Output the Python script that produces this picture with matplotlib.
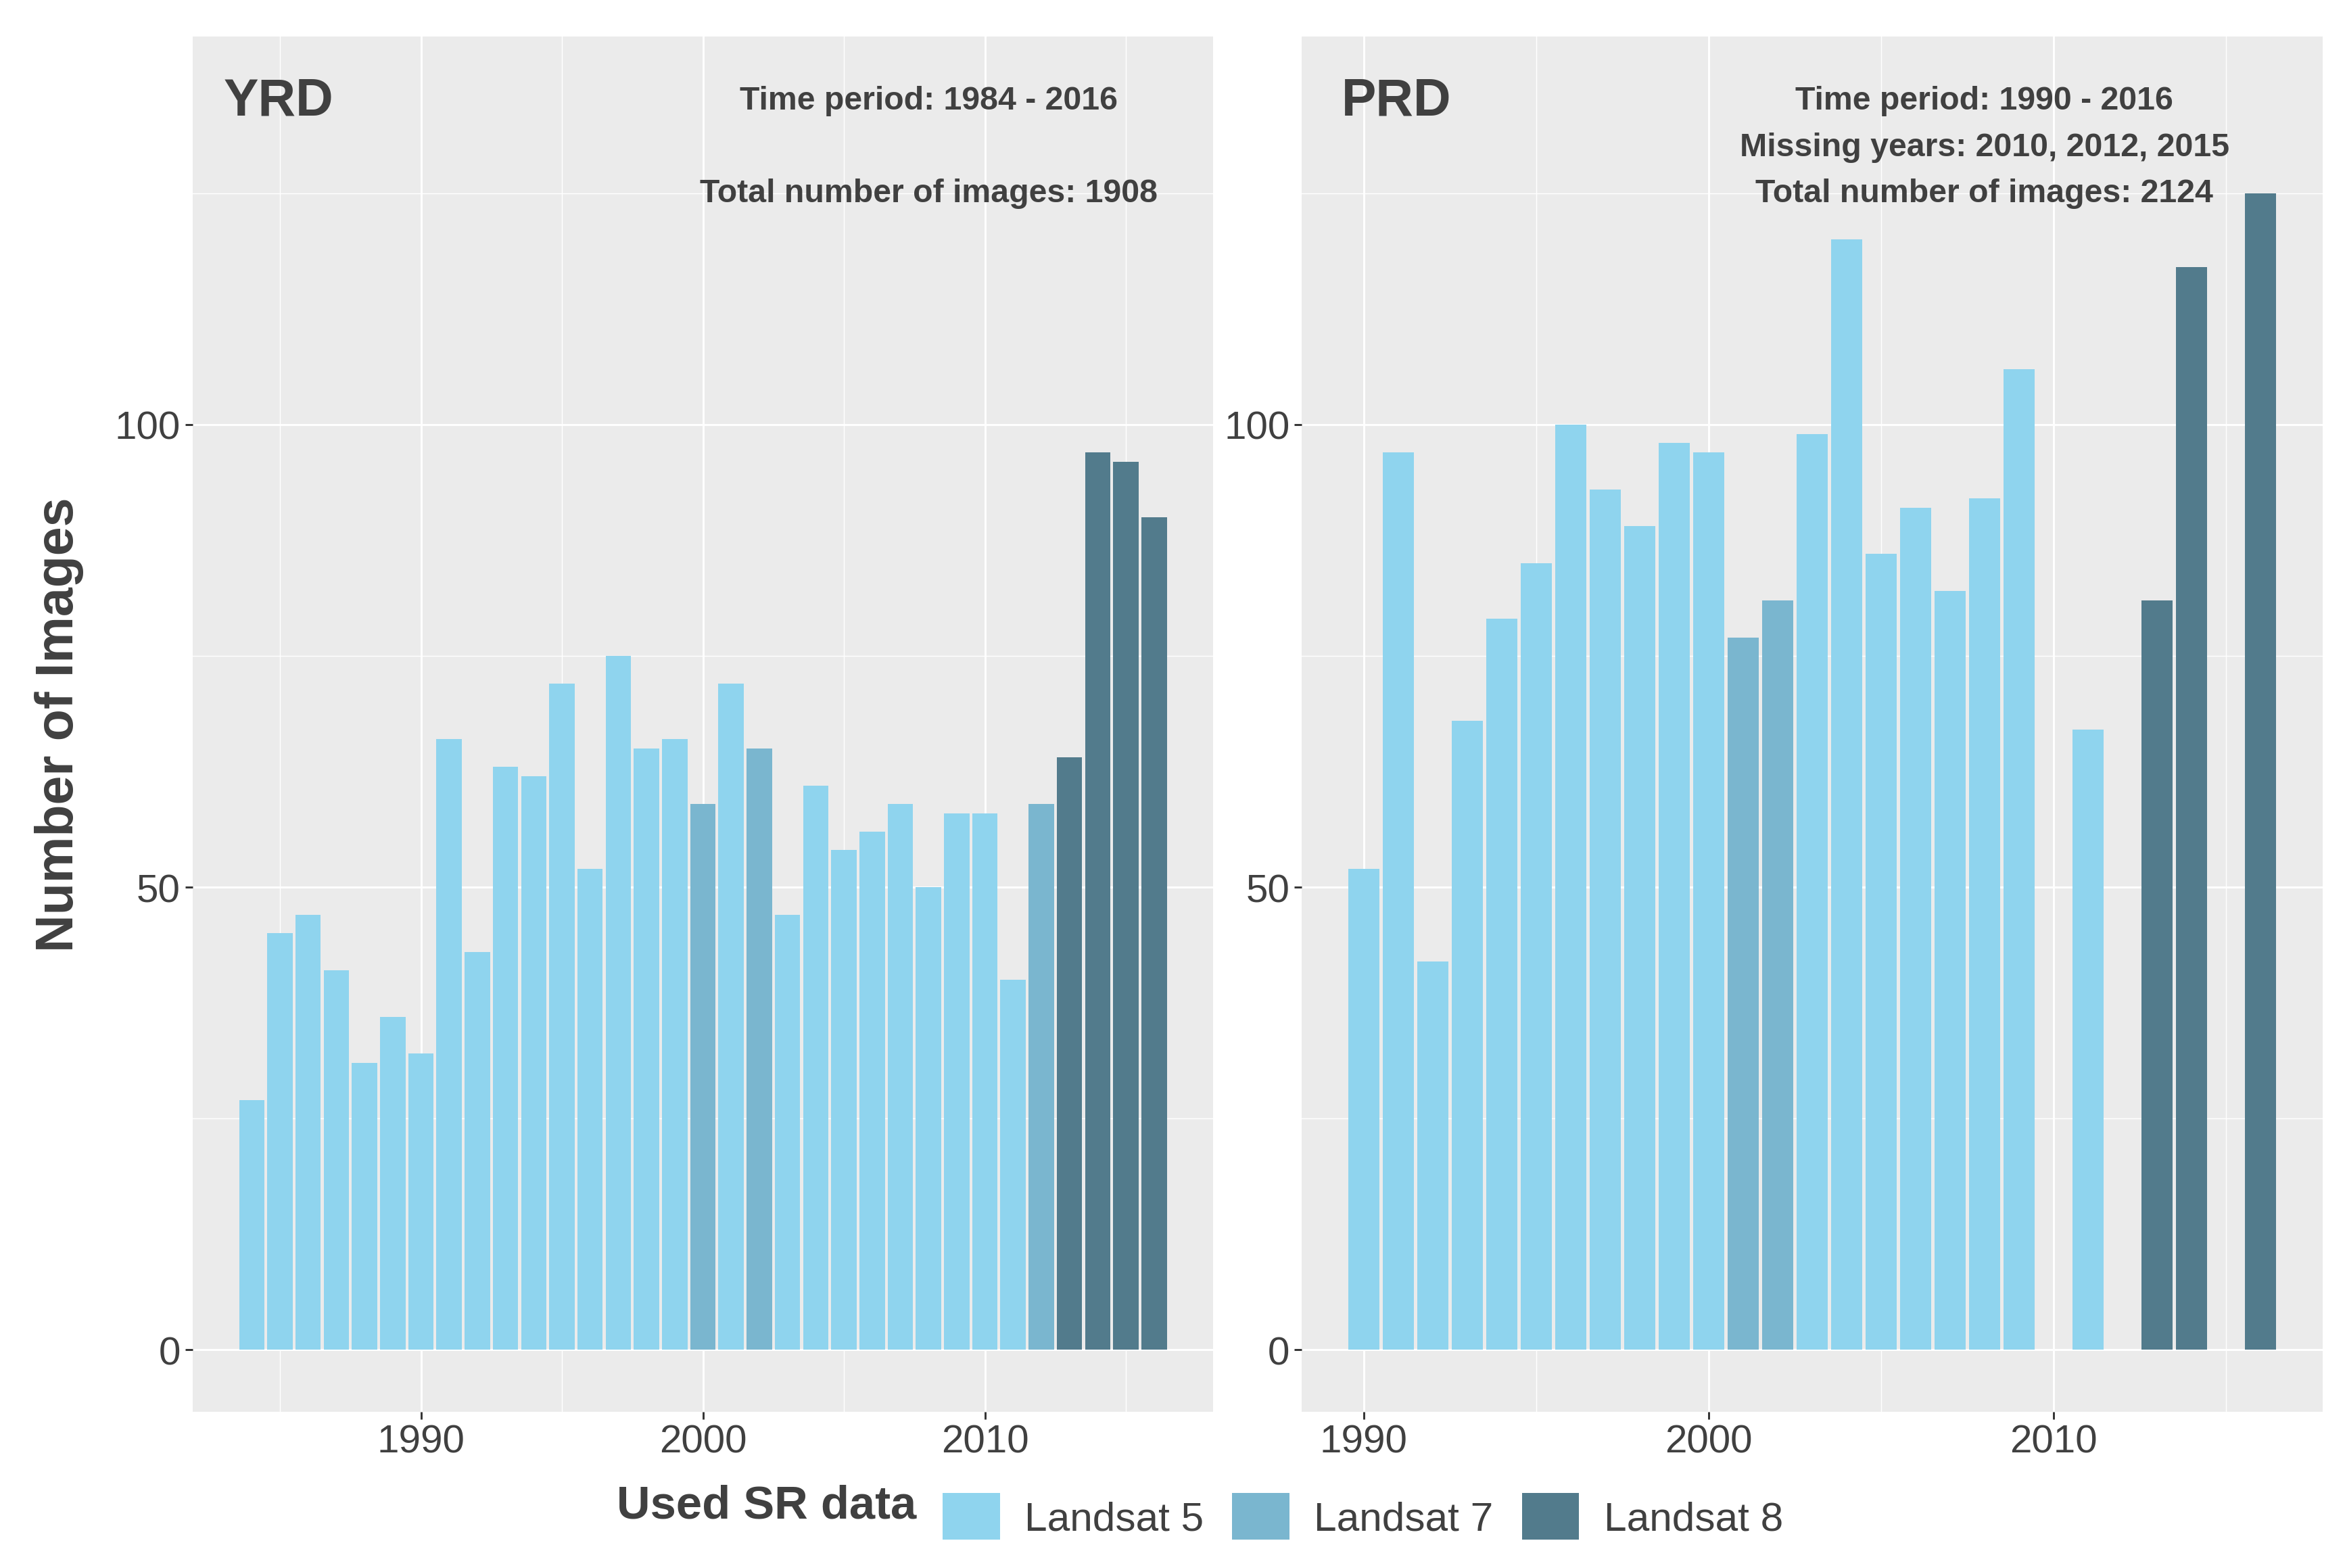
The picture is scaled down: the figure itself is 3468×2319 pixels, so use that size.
import matplotlib as mpl
import matplotlib.pyplot as plt
from matplotlib.patches import Patch
import numpy as np

plt.rcParams['font.family'] = ['Liberation Sans', 'DejaVu Sans']

# YRD data
yrd_years = list(range(1984, 2017))
yrd_counts = [27, 45, 47, 41, 31, 36, 32, 66, 43, 63, 62, 72, 52, 75, 65, 66,
              59, 72, 65, 47, 61, 54, 56, 59, 50, 58, 58, 40, 59, 64, 97, 96, 90]
yrd_sensor = (['Landsat 5'] * 16 + ['Landsat 7', 'Landsat 5', 'Landsat 7'] +
              ['Landsat 5'] * 9 + ['Landsat 7'] + ['Landsat 8'] * 4)

# PRD data (2010, 2012, 2015 missing)
prd_years = [1990, 1991, 1992, 1993, 1994, 1995, 1996, 1997, 1998, 1999, 2000,
             2001, 2002, 2003, 2004, 2005, 2006, 2007, 2008, 2009, 2011,
             2013, 2014, 2016]
prd_counts = [52, 97, 42, 68, 79, 85, 100, 93, 89, 98, 97,
              77, 81, 99, 120, 86, 91, 82, 92, 106, 67,
              81, 117, 125]
prd_sensor = (['Landsat 5'] * 11 + ['Landsat 7'] * 2 + ['Landsat 5'] * 8 +
              ['Landsat 8'] * 3)

sensors = ['Landsat 5', 'Landsat 7', 'Landsat 8']
colors = {'Landsat 5': '#8FD4EE', 'Landsat 7': '#7AB6CF', 'Landsat 8': '#527B8C'}

text_col = '#404040'
bg = '#EBEBEB'

fig = plt.figure(figsize=(11.56, 7.7333), dpi=300)
ax1 = fig.add_axes([0.0821, 0.0996, 0.4353, 0.8765])
ax2 = fig.add_axes([0.5551, 0.0996, 0.4353, 0.8765])


def style_axis(ax, xlim):
    ax.set_facecolor(bg)
    for s in ax.spines.values():
        s.set_visible(False)
    ax.set_xlim(*xlim)
    ax.set_ylim(-6.7, 141.9)
    ax.set_yticks([0, 50, 100])
    ax.set_yticks([25, 75, 125], minor=True)
    ax.set_xticks([1990, 2000, 2010])
    ax.grid(True, which='major', color='white', lw=0.7)
    ax.grid(True, which='minor', color='white', lw=0.35)
    ax.set_axisbelow(True)
    ax.tick_params(which='major', length=2.75, width=0.7, color='#333333',
                   labelsize=14, labelcolor=text_col, pad=1.5)
    ax.tick_params(which='minor', length=0)


def draw(ax, years, counts, sensor):
    cols = [colors[s] for s in sensor]
    ax.bar(years, counts, width=0.9, color=cols, edgecolor='none')


draw(ax1, yrd_years, yrd_counts, yrd_sensor)
style_axis(ax1, (1981.9, 2018.1))
ax1.set_xticks([1985, 1995, 2005, 2015], minor=True)

draw(ax2, prd_years, prd_counts, prd_sensor)
style_axis(ax2, (1988.2, 2017.8))
ax2.set_xticks([1995, 2005, 2015], minor=True)

ax1.set_ylabel('Number of Images', fontsize=18.5, fontweight='bold',
               color=text_col, labelpad=11)

# panel labels and notes
ax1.text(1983.0, 135, 'YRD', fontsize=18.5, fontweight='bold', color=text_col,
         ha='left', va='center')
ax1.text(2008, 135, 'Time period: 1984 - 2016', fontsize=11.6,
         fontweight='bold', color=text_col, ha='center', va='center')
ax1.text(2008, 125, 'Total number of images: 1908', fontsize=11.6,
         fontweight='bold', color=text_col, ha='center', va='center')

ax2.text(1989.35, 135, 'PRD', fontsize=18.5, fontweight='bold', color=text_col,
         ha='left', va='center')
ax2.text(2008, 135, 'Time period: 1990 - 2016', fontsize=11.6,
         fontweight='bold', color=text_col, ha='center', va='center')
ax2.text(2008, 130, 'Missing years: 2010, 2012, 2015', fontsize=11.6,
         fontweight='bold', color=text_col, ha='center', va='center')
ax2.text(2008, 125, 'Total number of images: 2124', fontsize=11.6,
         fontweight='bold', color=text_col, ha='center', va='center')

# legend at the bottom
handles = [Patch(facecolor=colors[s], edgecolor='none', label=s) for s in sensors]
fig.text(0.327, 0.040, 'Used SR data', fontsize=16.5, fontweight='bold',
         color=text_col, ha='center', va='center')
leg = fig.legend(handles=handles, loc='center left', bbox_to_anchor=(0.402, 0.033),
                 ncol=3, frameon=False, fontsize=14.5, handlelength=1.4,
                 handleheight=1.4, handletextpad=0.6, columnspacing=0.7,
                 borderpad=0, borderaxespad=0)
for t in leg.get_texts():
    t.set_color(text_col)

fig.savefig('out.png', dpi=300, facecolor='white')
